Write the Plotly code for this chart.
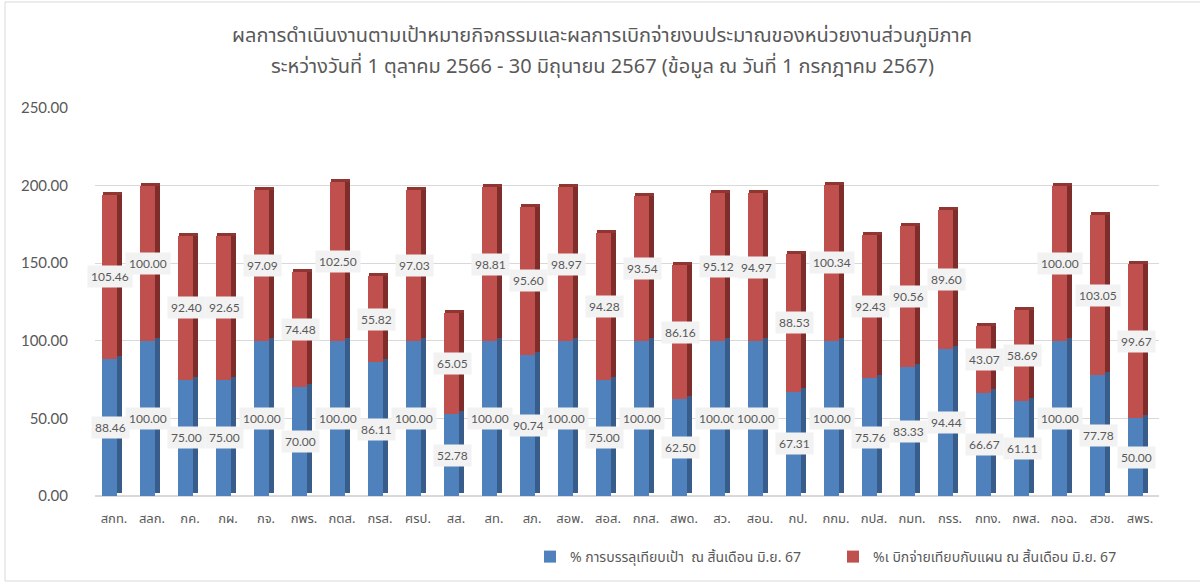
import plotly.graph_objects as go

categories = ["สกท.", "สลก.", "กค.", "กผ.", "กจ.", "กพร.", "กตส.", "กรส.", "ศรป.", "สส.",
              "สท.", "สภ.", "สอพ.", "สอส.", "กกส.", "สพด.", "สว.", "สอน.", "กป.", "กกม.",
              "กปส.", "กมท.", "กรร.", "กทง.", "กพส.", "กอฉ.", "สวช.", "สพร."]
target_pct = [88.46, 100.00, 75.00, 75.00, 100.00, 70.00, 100.00, 86.11, 100.00, 52.78,
              100.00, 90.74, 100.00, 75.00, 100.00, 62.50, 100.00, 100.00, 67.31, 100.00,
              75.76, 83.33, 94.44, 66.67, 61.11, 100.00, 77.78, 50.00]
budget_pct = [105.46, 100.00, 92.40, 92.65, 97.09, 74.48, 102.50, 55.82, 97.03, 65.05,
              98.81, 95.60, 98.97, 94.28, 93.54, 86.16, 95.12, 94.97, 88.53, 100.34,
              92.43, 90.56, 89.60, 43.07, 58.69, 100.00, 103.05, 99.67]
y_ticks = [0, 50, 100, 150, 200, 250]

title_1 = "ผลการดำเนินงานตามเป้าหมายกิจกรรมและผลการเบิกจ่ายงบประมาณของหน่วยงานส่วนภูมิภาค"
title_2 = "ระหว่างวันที่ 1 ตุลาคม 2566 - 30 มิถุนายน 2567 (ข้อมูล ณ วันที่ 1 กรกฎาคม 2567)"
name_blue = "% การบรรลุเทียบเป้า  ณ สิ้นเดือน มิ.ย. 67"
name_red = "%เ บิกจ่ายเทียบกับแผน ณ สิ้นเดือน มิ.ย. 67"

FONT = "Noto Sans Thai, Noto Sans, Tahoma, sans-serif"
NUMFONT = "Lato, Noto Sans, sans-serif"
GREY = "#595959"
BLUE, BLUE_D = "#4f81bd", "#385d8a"
RED, RED_D, RED_T = "#c0504d", "#7f2d2b", "#8f3532"

FRONT_OFF, FRONT_W = -0.32, 0.40
SIDE_OFF, SIDE_W = 0.08, 0.13
DEPTH = 2.0

# plot-area geometry in pixels (used only to place title/frame/legend in paper units)
PL, PW, PB, PH = 95, 1064, 496, 388


def px_x(p):
    return (p - PL) / PW


def px_y(p):
    return (PB - p) / PH


totals = [a + b for a, b in zip(target_pct, budget_pct)]
n = len(categories)

fig = go.Figure()
# side faces
fig.add_trace(go.Bar(x=categories, y=target_pct, base=[DEPTH] * n, offset=SIDE_OFF, width=SIDE_W,
                     marker=dict(color=BLUE_D, line=dict(width=0)), showlegend=False, hoverinfo="skip"))
fig.add_trace(go.Bar(x=categories, y=budget_pct, base=[t + DEPTH for t in target_pct], offset=SIDE_OFF,
                     width=SIDE_W, marker=dict(color=RED_D, line=dict(width=0)), showlegend=False,
                     hoverinfo="skip"))
# top caps
fig.add_trace(go.Bar(x=categories, y=[DEPTH] * n, base=totals, offset=FRONT_OFF + 0.03,
                     width=FRONT_W + SIDE_W - 0.03, marker=dict(color=RED_T, line=dict(width=0)),
                     showlegend=False, hoverinfo="skip"))
# front faces
fig.add_trace(go.Bar(x=categories, y=target_pct, base=[0] * n, offset=FRONT_OFF, width=FRONT_W,
                     name=name_blue, marker=dict(color=BLUE, line=dict(width=0))))
fig.add_trace(go.Bar(x=categories, y=budget_pct, base=target_pct, offset=FRONT_OFF, width=FRONT_W,
                     name=name_red, marker=dict(color=RED, line=dict(width=0))))

annotations = []
for c, b, r in zip(categories, target_pct, budget_pct):
    for val, yc in ((b, b / 2), (r, b + r / 2)):
        annotations.append(dict(x=c, y=yc, xref="x", yref="y", text=f"{val:.2f}", showarrow=False,
                                xshift=-4, bgcolor="#f2f2f2", borderpad=3,
                                font=dict(family=NUMFONT, size=12, color=GREY)))
for txt, row in ((title_1, 36), (title_2, 67)):
    annotations.append(dict(text=txt, x=px_x(602), xref="paper", y=px_y(row), yref="paper",
                            yanchor="middle", showarrow=False,
                            font=dict(family=FONT, size=20, color=GREY)))

fig.update_layout(
    width=1200, height=585,
    margin=dict(l=PL, r=1200 - PL - PW, t=PB - PH, b=585 - PB, autoexpand=False),
    paper_bgcolor="white", plot_bgcolor="white",
    barmode="overlay", bargap=0,
    font=dict(family=FONT, color=GREY),
    legend=dict(orientation="h", x=px_x(530), xanchor="left", y=px_y(541), yanchor="top",
                font=dict(family=FONT, size=14, color=GREY), traceorder="normal",
                entrywidth=258),
    annotations=annotations,
    shapes=[dict(type="rect", xref="paper", yref="paper", x0=px_x(5), x1=px_x(1210), y0=px_y(581),
                 y1=px_y(2), line=dict(color="#d9d9d9", width=1), layer="below")],
)
fig.update_xaxes(type="category", range=[-0.5, n - 0.5], showgrid=False, showline=False, ticks="",
                 ticklabelstandoff=13, tickfont=dict(family=FONT, size=13, color=GREY))
fig.update_yaxes(range=[0, 250], tickvals=y_ticks, tickformat=".2f", showgrid=True, gridcolor="#d9d9d9",
                 gridwidth=1, zeroline=True, zerolinecolor="#d9d9d9", showline=False,
                 ticklabelstandoff=26, tickfont=dict(family=NUMFONT, size=15, color=GREY))

fig.write_html("out.html", config={"displayModeBar": False},
               post_script="document.body.style.margin='0';document.body.style.overflow='hidden';")
